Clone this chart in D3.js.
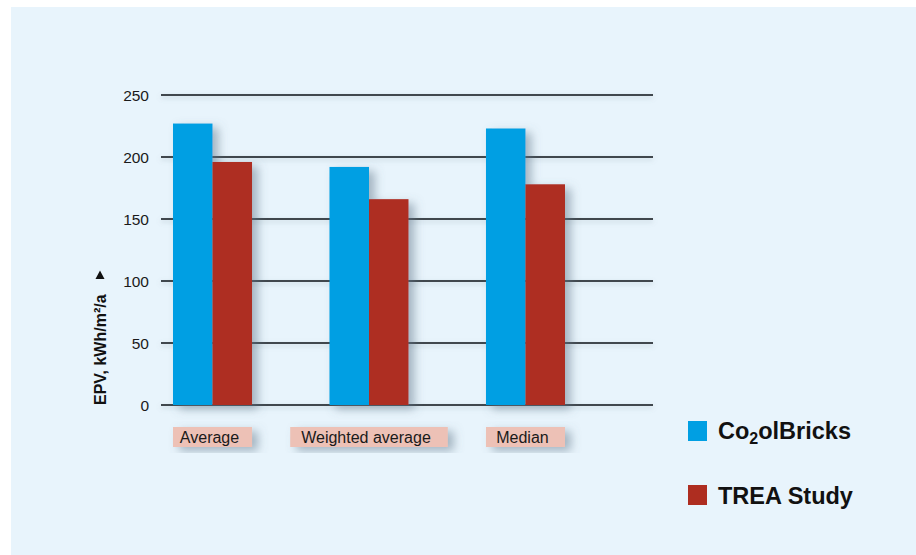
<!DOCTYPE html>
<html>
<head>
<meta charset="utf-8">
<script src="https://cdn.jsdelivr.net/npm/d3@7"></script>
<style>
  html, body { margin: 0; padding: 0; background: #ffffff; }
  svg { display: block; font-family: "Liberation Sans", Arial, Helvetica, sans-serif; }
</style>
</head>
<body>
<svg id="chart" width="916" height="555"></svg>
<script>
// Primary energy values (EPV, kWh/m²/a) per statistic
const categories = ["Average", "Weighted average", "Median"];
const seriesNames = ["Co2olBricks", "TREA Study"];
const coolBricks = [227, 192, 223];
const treaStudy = [196, 166, 178];
const yTicks = [0, 50, 100, 150, 200, 250];

const colors = { "Co2olBricks": "#009fe3", "TREA Study": "#ae2d20" };

const svg = d3.select("#chart");

// Soft drop shadows
const defs = svg.append("defs");
const sh = defs.append("filter").attr("id", "shadow")
  .attr("x", "-30%").attr("y", "-30%").attr("width", "180%").attr("height", "160%");
sh.append("feDropShadow").attr("dx", 6).attr("dy", 4).attr("stdDeviation", 5)
  .attr("flood-color", "#5f7587").attr("flood-opacity", 0.5);
const shLine = defs.append("filter").attr("id", "lineShadow")
  .attr("filterUnits", "userSpaceOnUse")
  .attr("x", 140).attr("y", 60).attr("width", 540).attr("height", 370);
shLine.append("feDropShadow").attr("dx", 0).attr("dy", 2).attr("stdDeviation", 2.5)
  .attr("flood-color", "#7a8a98").attr("flood-opacity", 0.35);

// Panel background
svg.append("rect").attr("x", 11).attr("y", 7).attr("width", 905).attr("height", 548)
  .attr("fill", "#e8f4fc");

// Scales
const y = d3.scaleLinear().domain([0, 250]).range([405, 95]);
const x0 = d3.scaleBand().domain(categories).range([173, 565]).paddingInner(0.495).paddingOuter(0);
const x1 = d3.scaleBand().domain(seriesNames).range([0, x0.bandwidth()]).padding(0);

// Tick labels via axis
const yAxis = d3.axisLeft(y).tickValues(yTicks).tickSize(0).tickPadding(0);
const gAxis = svg.append("g").attr("transform", "translate(149,0)").call(yAxis);
gAxis.select(".domain").remove();
gAxis.selectAll("text").attr("font-size", 15.5).attr("fill", "#1a1a1a")
  .attr("font-family", "'Liberation Sans', Arial, sans-serif").attr("dy", "0.35em").attr("x", 0);

// Gridlines
svg.append("g").attr("filter", "url(#lineShadow)").selectAll("line").data(yTicks).join("line")
  .attr("x1", 161).attr("x2", 653)
  .attr("y1", d => y(d)).attr("y2", d => y(d))
  .attr("stroke", "#3f474d").attr("stroke-width", 2);

// Bars
const rows = categories.map((c, i) => ({ cat: c, values: [
  { key: "Co2olBricks", value: coolBricks[i] },
  { key: "TREA Study", value: treaStudy[i] }
]}));

const groups = svg.append("g").selectAll("g").data(rows).join("g")
  .attr("transform", d => `translate(${x0(d.cat)},0)`)
  .attr("filter", "url(#shadow)");
groups.selectAll("rect").data(d => d.values).join("rect")
  .attr("x", d => x1(d.key))
  .attr("width", x1.bandwidth())
  .attr("y", d => y(d.value))
  .attr("height", d => y(0) - y(d.value))
  .attr("fill", d => colors[d.key]);

// Category label boxes: group width, widened only when the text needs it
const labelG = svg.append("g").selectAll("g").data(categories).join("g");
labelG.each(function(c) {
  const g = d3.select(this);
  const cx = x0(c) + x0.bandwidth() / 2;
  const t = g.append("text").text(c).attr("font-size", 16).attr("fill", "#1a1a1a")
    .attr("y", 442.5).attr("x", cx - 3).attr("text-anchor", "middle");
  const w = t.node().getComputedTextLength();
  const boxW = (w + 16 > x0.bandwidth()) ? w + 28 : x0.bandwidth();
  g.insert("rect", "text").attr("x", cx - boxW / 2).attr("y", 427).attr("width", boxW).attr("height", 20)
    .attr("fill", "#edc1b6").attr("filter", "url(#shadow)");
});

// Y axis title with arrow
svg.append("text")
  .attr("transform", "translate(106,405) rotate(-90)")
  .attr("font-size", 16).attr("font-weight", "bold").attr("fill", "#111")
  .text("EPV, kWh/m²/a");
svg.append("path")
  .attr("d", "M100,270.5 L104.5,279 L95.5,279 Z")
  .attr("fill", "#111");

// Legend
const legend = svg.append("g");
const legendItems = [
  { key: "Co2olBricks", y: 421, base: 18 },
  { key: "TREA Study", y: 485, base: 19 }
];
legendItems.forEach(item => {
  legend.append("rect").attr("x", 688).attr("y", item.y).attr("width", 19).attr("height", 20)
    .attr("fill", colors[item.key]);
  const t = legend.append("text").attr("x", 718).attr("y", item.y + item.base)
    .attr("font-size", 23.5).attr("font-weight", "bold").attr("fill", "#111");
  if (item.key === "Co2olBricks") {
    t.append("tspan").text("Co");
    t.append("tspan").text("2").attr("font-size", 16).attr("dy", 5);
    t.append("tspan").text("olBricks").attr("dy", -5);
  } else {
    t.text(item.key);
  }
});
</script>
</body>
</html>
